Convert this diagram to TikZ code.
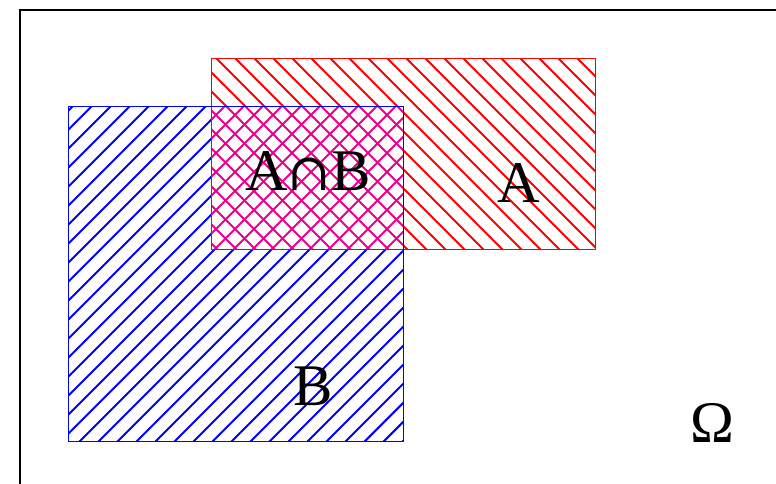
\documentclass[tikz,border=0pt]{standalone}
\usepackage{fontspec}
\setmainfont{Liberation Serif}
\newfontfamily\capfont{DejaVu Serif}
\begin{document}
\begin{tikzpicture}[x=1pt,y=-1pt,
  hatchline/.style={line width=2.1pt},
  setbox/.style={line width=1pt},
  biglabel/.style={font=\fontsize{59}{60}\selectfont, inner sep=0pt, anchor=base}]
\clip (0,0) rectangle (776,483);
\fill[white] (0,0) rectangle (776,483);
% frame
\draw[line width=2pt] (20,10) rectangle (820,520);
% red hatch (set A)
\begin{scope}
  \clip (211,58) rectangle (595,249);
  \foreach \c in {-32,-13,...,560}
    \draw[hatchline,red] (\c,0) -- (\c+500,500);
\end{scope}
% blue hatch (set B)
\begin{scope}
  \clip (68,106) rectangle (403,441);
  \foreach \d in {179,198,...,870}
    \draw[hatchline,blue] (\d,0) -- (\d-600,600);
\end{scope}
% magenta crosshatch (intersection)
\begin{scope}
  \clip (211,106) rectangle (403,249);
  \fill[white] (211,106) rectangle (403,249);
  \foreach \c in {-32,-13,...,560}
    \draw[hatchline,magenta] (\c,0) -- (\c+500,500);
  \foreach \d in {179,198,...,870}
    \draw[hatchline,magenta] (\d,0) -- (\d-600,600);
\end{scope}
% borders
\draw[setbox,red] (211,58) rectangle (595,249);
\draw[setbox,blue] (68,106) rectangle (403,441);
% labels
\node[biglabel] (lblAB) at (308,190) {A{\capfont\fontsize{52}{56}\selectfont ∩}B};
\node[biglabel] (lblA) at (519,202) {A};
\node[biglabel] (lblB) at (313,405) {B};
\node[biglabel] (lblOmega) at (712,442) {Ω};
\end{tikzpicture}
\end{document}
